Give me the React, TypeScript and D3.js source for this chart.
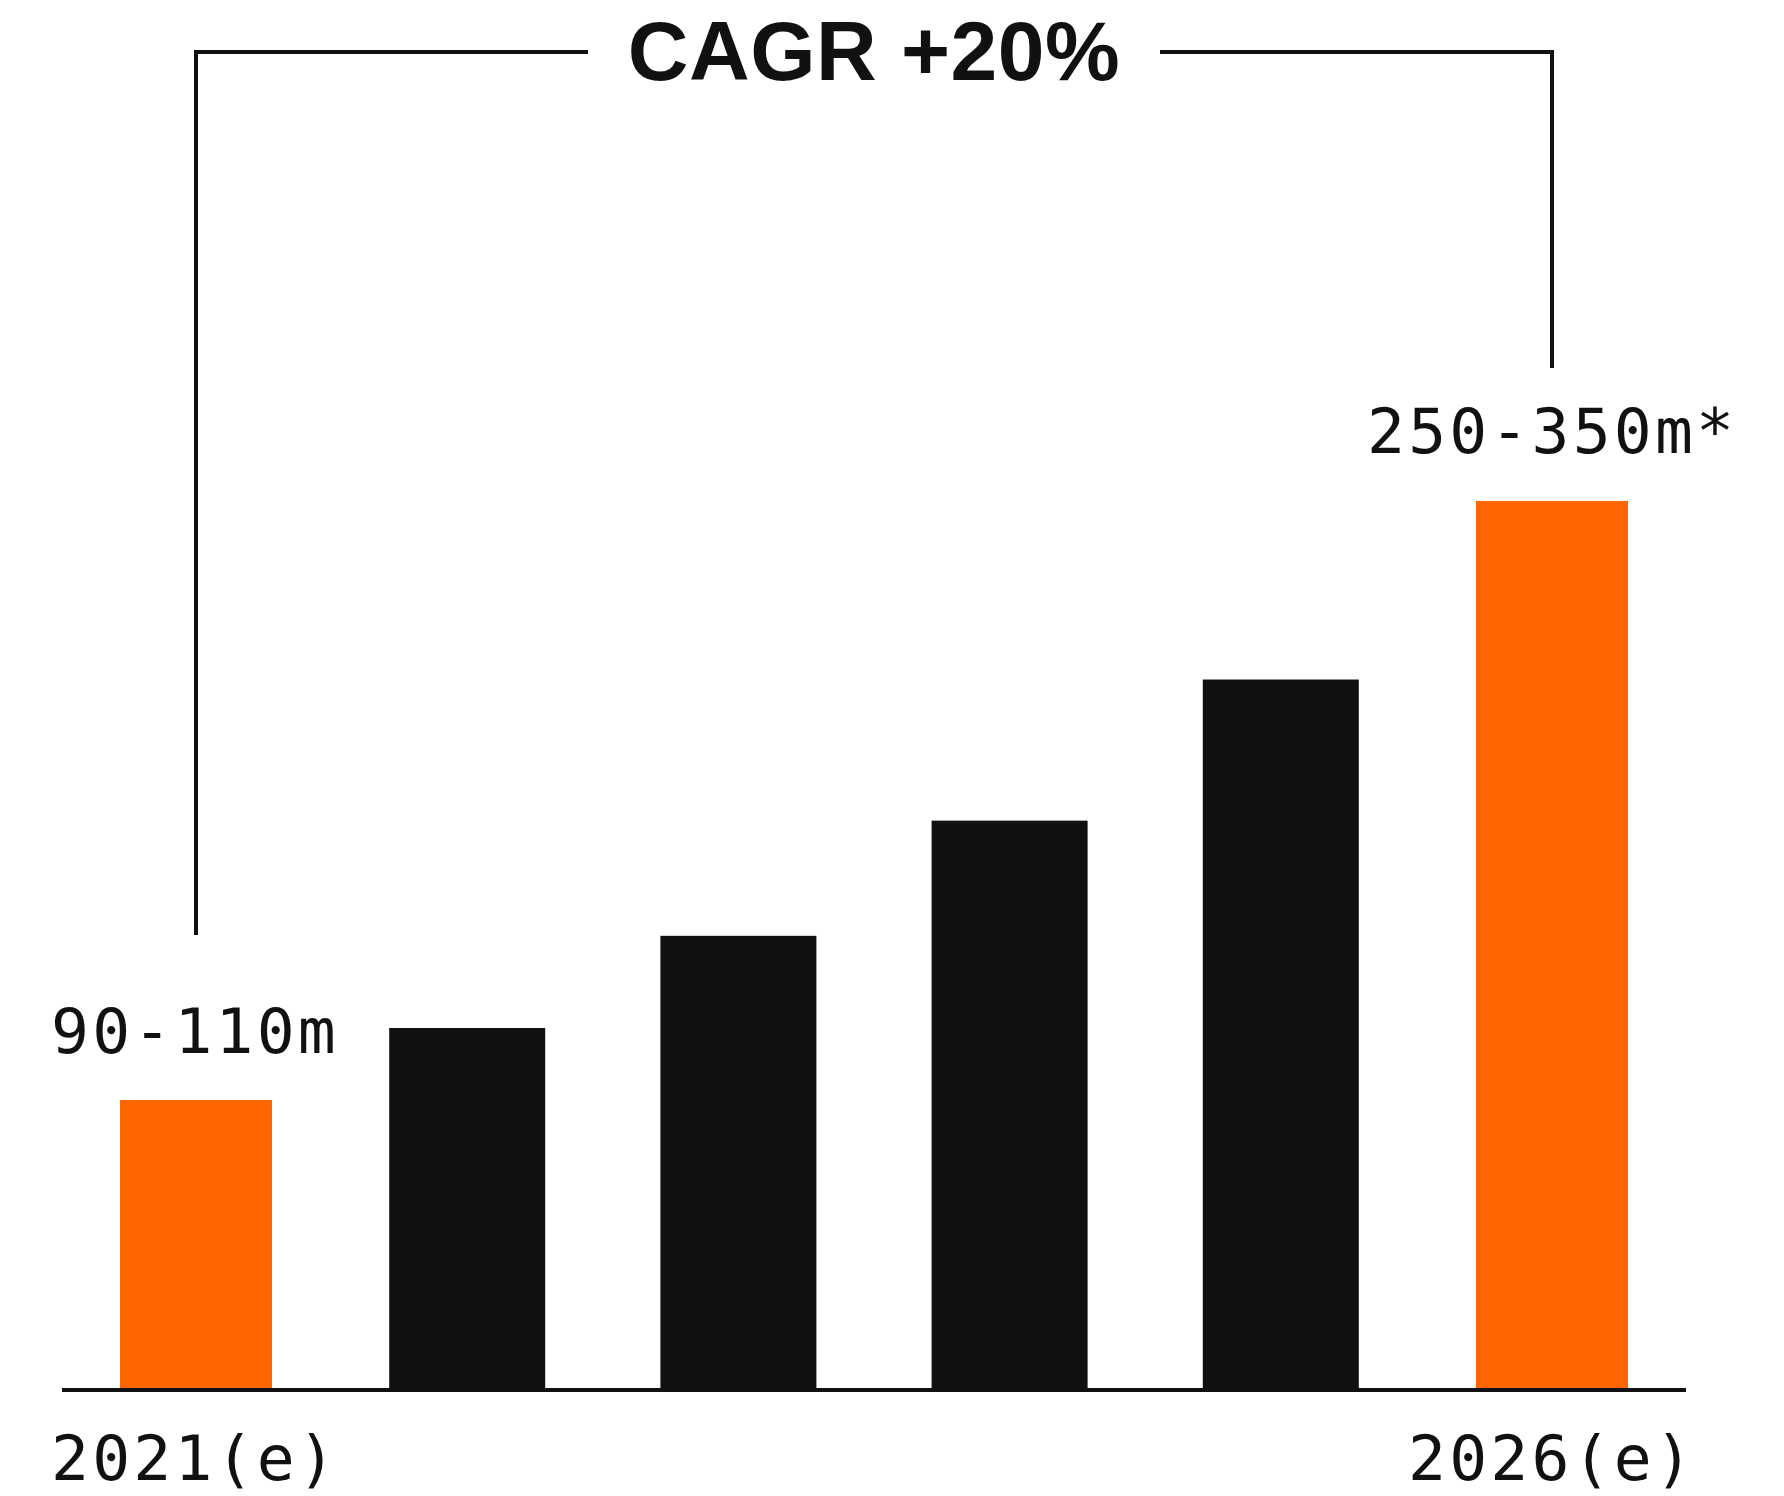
import React from "react";
import * as d3 from "d3";

// Yearly volumes (millions); first and last years are estimates
const years = ["2021", "2022", "2023", "2024", "2025", "2026"];
const values = [100, 125, 157, 197, 246, 308];
const highlighted = [true, false, false, false, false, true];
const valueLabels = ["90-110m", "", "", "", "", "250-350m*"];
const tickLabels = ["2021(e)", "", "", "", "", "2026(e)"];
const headline = "CAGR +20%";

const W = 1784;
const H = 1496;
const baseY = 1388;
const ORANGE = "#ff6600";
const INK = "#111111";
const MONO = "'DejaVu Sans Mono', monospace";

export default function App() {
  const x = d3.scalePoint<string>().domain(years).range([196, 1552]);
  const y = d3.scaleLinear().domain([0, 400]).range([baseY, baseY - 1152]);

  const first = years[0];
  const last = years[years.length - 1];
  const bracketTop = 52;
  const leftPath = d3.path();
  leftPath.moveTo(x(first)!, 935);
  leftPath.lineTo(x(first)!, bracketTop);
  leftPath.lineTo(588, bracketTop);
  const rightPath = d3.path();
  rightPath.moveTo(1160, bracketTop);
  rightPath.lineTo(x(last)!, bracketTop);
  rightPath.lineTo(x(last)!, 368);

  return (
    <svg
      width={W}
      height={H}
      viewBox={`0 0 ${W} ${H}`}
      style={{ position: "absolute", left: 0, top: 0, background: "#fff" }}
    >
      <rect x={0} y={0} width={W} height={H} fill="#fff" />

      {years.map((yr, i) => {
        const w = highlighted[i] ? 152 : 156;
        const cx = x(yr)!;
        return (
          <rect
            key={yr}
            x={cx - w / 2}
            y={y(values[i])}
            width={w}
            height={baseY - y(values[i]) + 2}
            fill={highlighted[i] ? ORANGE : INK}
          />
        );
      })}

      {/* baseline */}
      <line x1={62} x2={1686} y1={baseY + 2} y2={baseY + 2} stroke={INK} strokeWidth={4} />

      {/* growth bracket */}
      <path d={leftPath.toString()} fill="none" stroke={INK} strokeWidth={4} />
      <path d={rightPath.toString()} fill="none" stroke={INK} strokeWidth={4} />
      <text
        x={(x(first)! + x(last)!) / 2}
        y={80}
        textAnchor="middle"
        fontFamily="'Liberation Sans', Arial, sans-serif"
        fontWeight={700}
        fontSize={84}
        letterSpacing={0.5}
        fill={INK}
      >
        {headline}
      </text>

      {/* value labels */}
      <text x={51} y={1053} fontFamily={MONO} fontSize={63} letterSpacing={3.2} fill={INK}>
        {valueLabels[0]}
      </text>
      <text x={1367} y={453} fontFamily={MONO} fontSize={63} letterSpacing={3.2} fill={INK}>
        {valueLabels[5]}
      </text>

      {/* category labels */}
      <text x={51} y={1480} fontFamily={MONO} fontSize={63} letterSpacing={3.2} fill={INK}>
        {tickLabels[0]}
      </text>
      <text x={1408} y={1480} fontFamily={MONO} fontSize={63} letterSpacing={3.2} fill={INK}>
        {tickLabels[5]}
      </text>
    </svg>
  );
}
